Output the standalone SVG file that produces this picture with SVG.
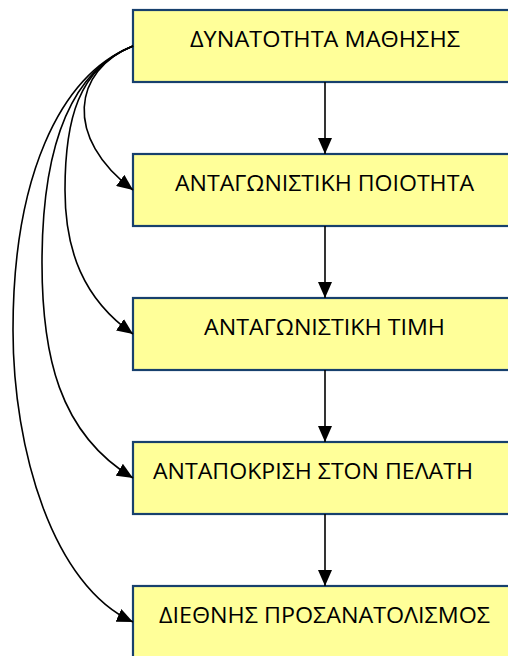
<svg xmlns="http://www.w3.org/2000/svg" width="508" height="656" viewBox="0 0 508 656">
  <defs>
    <style>
      .box { fill: #FFFF99; stroke: #17406D; stroke-width: 2.2; }
      .lbl { font-family: "Open Sans", "Noto Sans", "DejaVu Sans", sans-serif; font-size: 21.5px; fill: #000000; }
      .edge { fill: none; stroke: #000000; stroke-width: 1.6; marker-end: url(#arrow); }
    </style>
    <marker id="arrow" viewBox="0 0 16 14" refX="16" refY="7" markerWidth="16" markerHeight="14" markerUnits="userSpaceOnUse" orient="auto">
      <path d="M0,0 L16,7 L0,14 z" fill="#000000"/>
    </marker>
  </defs>
  <rect width="508" height="656" fill="#FFFFFF"/>
  <g id="node-dynatotita">
    <rect class="box" x="133" y="10" width="420" height="72"/>
    <text class="lbl" x="190" y="47" textLength="270" lengthAdjust="spacingAndGlyphs">ΔΥΝΑΤΟΤΗΤΑ ΜΑΘΗΣΗΣ</text>
  </g>
  <g id="node-poiotita">
    <rect class="box" x="133" y="154" width="420" height="72"/>
    <text class="lbl" x="175" y="191" textLength="299" lengthAdjust="spacingAndGlyphs">ΑΝΤΑΓΩΝΙΣΤΙΚΗ ΠΟΙΟΤΗΤΑ</text>
  </g>
  <g id="node-timi">
    <rect class="box" x="133" y="298" width="420" height="72"/>
    <text class="lbl" x="204" y="335" textLength="241" lengthAdjust="spacingAndGlyphs">ΑΝΤΑΓΩΝΙΣΤΙΚΗ ΤΙΜΗ</text>
  </g>
  <g id="node-pelatis">
    <rect class="box" x="133" y="442" width="420" height="72"/>
    <text class="lbl" x="153" y="479" textLength="320" lengthAdjust="spacingAndGlyphs">ΑΝΤΑΠΟΚΡΙΣΗ ΣΤΟΝ ΠΕΛΑΤΗ</text>
  </g>
  <g id="node-diethnis">
    <rect class="box" x="133" y="586" width="420" height="72"/>
    <text class="lbl" x="159" y="623" textLength="331" lengthAdjust="spacingAndGlyphs">ΔΙΕΘΝΗΣ ΠΡΟΣΑΝΑΤΟΛΙΣΜΟΣ</text>
  </g>
  <g id="connectors">
    <path class="edge" d="M325,82 L325,154"/>
    <path class="edge" d="M325,226 L325,298"/>
    <path class="edge" d="M325,370 L325,442"/>
    <path class="edge" d="M325,514 L325,586"/>
    <path class="edge" d="M133,46 C73,70 63,137.5 133,190"/>
    <path class="edge" d="M133,46 C78,68 65,120 65,190 C65,250 83,299 133,334"/>
    <path class="edge" d="M133,46 C68,72 42,153 42,263 C42,353 58,433 133,478"/>
    <path class="edge" d="M133,46 C58,76 13,180 13,330 C13,450 53,586 133,622"/>
  </g>
</svg>
